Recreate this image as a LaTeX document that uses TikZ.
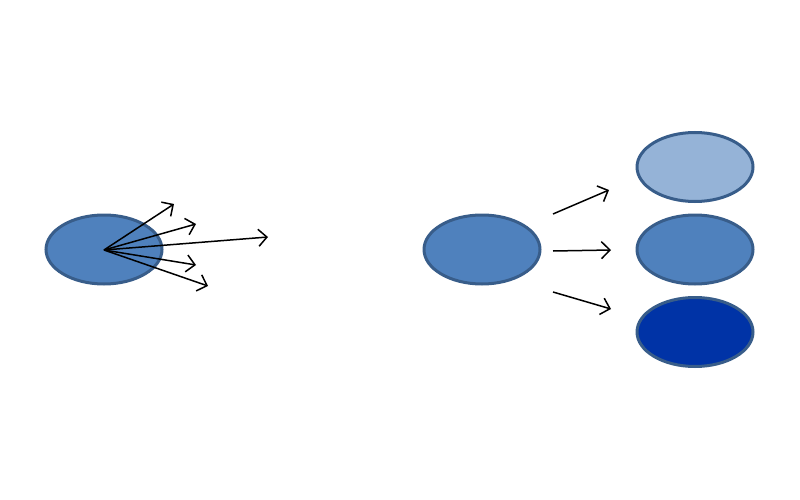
\documentclass[tikz,border=0pt]{standalone}
\usetikzlibrary{arrows.meta,shapes.geometric}
\definecolor{fillmid}{HTML}{4F81BD}
\definecolor{filllight}{HTML}{95B3D7}
\definecolor{filldark}{HTML}{0033A6}
\definecolor{edgeblue}{HTML}{385D8A}
\begin{document}
\begin{tikzpicture}[x=1pt,y=-1pt,
  blob/.style={ellipse, draw=edgeblue, line width=3pt, minimum width=116pt, minimum height=69pt, inner sep=0pt},
  arr/.style={-{Straight Barb[length=8.5pt,width=17pt]}, line width=1.5pt, black}]
\useasboundingbox (0,0) rectangle (800,500);
\node[blob, fill=fillmid] (L) at (104,249.5) {};
\coordinate (o) at (104,250);
\coordinate (e1) at (174,204);
\coordinate (e2) at (196,224);
\coordinate (e3) at (268,237);
\coordinate (e4) at (196,265);
\coordinate (e5) at (208,286);
\foreach \e in {e1,e2,e3,e4,e5} \draw[arr] (o) -- (\e);
\node[blob, fill=fillmid] (M) at (482,249.5) {};
\node[blob, fill=filllight] (R1) at (695,167) {};
\node[blob, fill=fillmid] (R2) at (695,249.5) {};
\node[blob, fill=filldark] (R3) at (695,332) {};
\coordinate (s1) at (553,214); \coordinate (t1) at (609,190);
\coordinate (s2) at (553,251); \coordinate (t2) at (611,250);
\coordinate (s3) at (553,292); \coordinate (t3) at (611,309);
\draw[arr] (s1) -- (t1);
\draw[arr] (s2) -- (t2);
\draw[arr] (s3) -- (t3);
\end{tikzpicture}
\end{document}
